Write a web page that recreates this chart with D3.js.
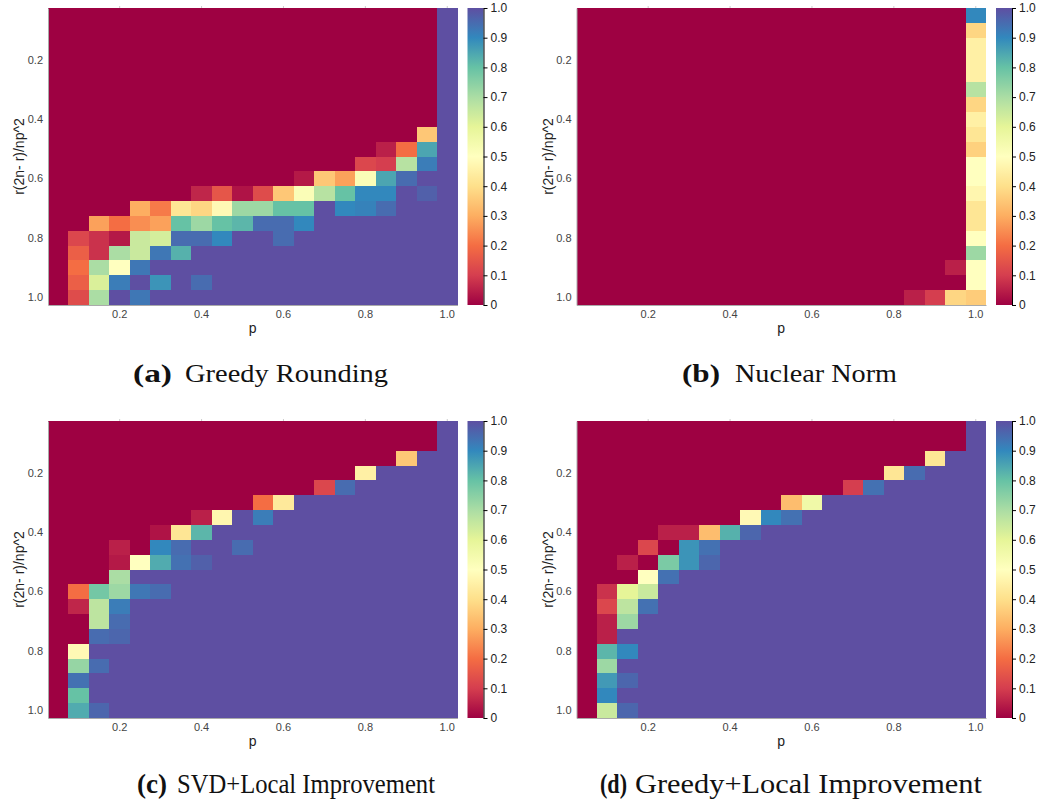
<!DOCTYPE html>
<html>
<head>
<meta charset="utf-8">
<title>Recovery heatmaps</title>
<style>
body {
    margin: 0;
    background: #fff;
}

svg text {
    font-family: "Liberation Sans", Arial, sans-serif;
}

.map-axis .tick text {
    fill: #444;
    font-size: 11px;
}

.map-axis .domain {
    stroke: #aaa;
}

.top-axis .domain {
    stroke: none;
}

.top-axis .tick line {
    stroke: #ccc;
}

.bar-axis .tick text {
    fill: #222;
    font-size: 12px;
}

.bar-axis .domain,
.bar-axis .tick line {
    stroke: #000;
}

.axis-label {
    fill: #222;
    font-size: 14px;
    text-anchor: middle;
}

.caption {
    font-family: "Liberation Serif", "Times New Roman", serif;
    fill: #111;
}
</style>
</head>
<body>

<svg id="chart" width="1037" height="803"></svg>

<script src="https://cdn.jsdelivr.net/npm/d3@7"></script>
<script>
const pValues = [0.05, 0.1, 0.15, 0.2, 0.25, 0.3, 0.35, 0.4, 0.45, 0.5, 0.55, 0.6, 0.65, 0.7, 0.75, 0.8, 0.85, 0.9, 0.95, 1.0];
const ratioValues = [0.05, 0.1, 0.15, 0.2, 0.25, 0.3, 0.35, 0.4, 0.45, 0.5, 0.55, 0.6, 0.65, 0.7, 0.75, 0.8, 0.85, 0.9, 0.95, 1.0];
const axisTicks = [0.2, 0.4, 0.6, 0.8, 1.0];
const colorTicks = [0, 0.1, 0.2, 0.3, 0.4, 0.5, 0.6, 0.7, 0.8, 0.9, 1.0];
const captionLetters = ['(a)', '(b)', '(c)', '(d)'];
const captionTitles = ['Greedy Rounding', 'Nuclear Norm', 'SVD+Local Improvement', 'Greedy+Local Improvement'];
const xLabel = 'p';
const yLabel = 'r(2n- r)/np^2';

// rows follow ratioValues (top to bottom), columns follow pValues
const greedyRounding = [
    [0,0,0,0,0,0,0,0,0,0,0,0,0,0,0,0,0,0,0,1],
    [0,0,0,0,0,0,0,0,0,0,0,0,0,0,0,0,0,0,0,1],
    [0,0,0,0,0,0,0,0,0,0,0,0,0,0,0,0,0,0,0,1],
    [0,0,0,0,0,0,0,0,0,0,0,0,0,0,0,0,0,0,0,1],
    [0,0,0,0,0,0,0,0,0,0,0,0,0,0,0,0,0,0,0,1],
    [0,0,0,0,0,0,0,0,0,0,0,0,0,0,0,0,0,0,0,1],
    [0,0,0,0,0,0,0,0,0,0,0,0,0,0,0,0,0,0,0,1],
    [0,0,0,0,0,0,0,0,0,0,0,0,0,0,0,0,0,0,0,1],
    [0,0,0,0,0,0,0,0,0,0,0,0,0,0,0,0,0,0,0.35,1],
    [0,0,0,0,0,0,0,0,0,0,0,0,0,0,0,0,0.05,0.2,0.85,1],
    [0,0,0,0,0,0,0,0,0,0,0,0,0,0,0,0.12,0.1,0.68,0.92,1],
    [0,0,0,0,0,0,0,0,0,0,0,0,0.04,0.35,0.28,0.52,0.85,0.95,1,1],
    [0,0,0,0,0,0,0,0.06,0.15,0.03,0.13,0.35,0.52,0.68,0.8,0.9,0.9,1,0.97,1],
    [0,0,0,0,0.3,0.22,0.42,0.38,0.48,0.72,0.72,0.8,0.8,1,0.9,0.91,0.95,1,1,1],
    [0,0,0.28,0.2,0.25,0.28,0.8,0.72,0.8,0.82,0.95,0.95,0.9,1,1,1,1,1,1,1],
    [0,0.12,0.08,0.04,0.65,0.63,0.95,0.95,0.9,1,1,0.95,1,1,1,1,1,1,1,1],
    [0,0.17,0.08,0.7,0.65,0.93,0.83,1,1,1,1,1,1,1,1,1,1,1,1,1],
    [0,0.2,0.7,0.5,0.93,1,1,1,1,1,1,1,1,1,1,1,1,1,1,1],
    [0,0.17,0.62,0.92,1,0.88,1,0.95,1,1,1,1,1,1,1,1,1,1,1,1],
    [0,0.13,0.7,1,0.93,1,1,1,1,1,1,1,1,1,1,1,1,1,1,1]
];

const nuclearNorm = [
    [0,0,0,0,0,0,0,0,0,0,0,0,0,0,0,0,0,0,0,0.9],
    [0,0,0,0,0,0,0,0,0,0,0,0,0,0,0,0,0,0,0,0.38],
    [0,0,0,0,0,0,0,0,0,0,0,0,0,0,0,0,0,0,0,0.45],
    [0,0,0,0,0,0,0,0,0,0,0,0,0,0,0,0,0,0,0,0.45],
    [0,0,0,0,0,0,0,0,0,0,0,0,0,0,0,0,0,0,0,0.45],
    [0,0,0,0,0,0,0,0,0,0,0,0,0,0,0,0,0,0,0,0.68],
    [0,0,0,0,0,0,0,0,0,0,0,0,0,0,0,0,0,0,0,0.38],
    [0,0,0,0,0,0,0,0,0,0,0,0,0,0,0,0,0,0,0,0.45],
    [0,0,0,0,0,0,0,0,0,0,0,0,0,0,0,0,0,0,0,0.42],
    [0,0,0,0,0,0,0,0,0,0,0,0,0,0,0,0,0,0,0,0.37],
    [0,0,0,0,0,0,0,0,0,0,0,0,0,0,0,0,0,0,0,0.5],
    [0,0,0,0,0,0,0,0,0,0,0,0,0,0,0,0,0,0,0,0.5],
    [0,0,0,0,0,0,0,0,0,0,0,0,0,0,0,0,0,0,0,0.47],
    [0,0,0,0,0,0,0,0,0,0,0,0,0,0,0,0,0,0,0,0.42],
    [0,0,0,0,0,0,0,0,0,0,0,0,0,0,0,0,0,0,0,0.42],
    [0,0,0,0,0,0,0,0,0,0,0,0,0,0,0,0,0,0,0,0.5],
    [0,0,0,0,0,0,0,0,0,0,0,0,0,0,0,0,0,0,0,0.72],
    [0,0,0,0,0,0,0,0,0,0,0,0,0,0,0,0,0,0,0.05,0.5],
    [0,0,0,0,0,0,0,0,0,0,0,0,0,0,0,0,0,0,0,0.5],
    [0,0,0,0,0,0,0,0,0,0,0,0,0,0,0,0,0.05,0.1,0.38,0.36]
];

const svdLocal = [
    [0,0,0,0,0,0,0,0,0,0,0,0,0,0,0,0,0,0,0,1],
    [0,0,0,0,0,0,0,0,0,0,0,0,0,0,0,0,0,0,0,1],
    [0,0,0,0,0,0,0,0,0,0,0,0,0,0,0,0,0,0.35,1,1],
    [0,0,0,0,0,0,0,0,0,0,0,0,0,0,0,0.45,1,1,1,1],
    [0,0,0,0,0,0,0,0,0,0,0,0,0,0.12,0.95,1,1,1,1,1],
    [0,0,0,0,0,0,0,0,0,0,0.2,0.43,1,1,1,1,1,1,1,1],
    [0,0,0,0,0,0,0,0.05,0.47,1,0.92,1,1,1,1,1,1,1,1,1],
    [0,0,0,0,0,0.03,0.42,0.82,1,1,1,1,1,1,1,1,1,1,1,1],
    [0,0,0,0.05,0,0.9,0.95,1,1,0.95,1,1,1,1,1,1,1,1,1,1],
    [0,0,0,0.04,0.5,0.84,0.94,0.97,1,1,1,1,1,1,1,1,1,1,1,1],
    [0,0,0,0.7,1,1,1,1,1,1,1,1,1,1,1,1,1,1,1,1],
    [0,0.2,0.78,0.72,0.93,0.95,1,1,1,1,1,1,1,1,1,1,1,1,1,1],
    [0,0.06,0.67,0.92,1,1,1,1,1,1,1,1,1,1,1,1,1,1,1,1],
    [0,0,0.67,0.95,1,1,1,1,1,1,1,1,1,1,1,1,1,1,1,1],
    [0,0,0.95,0.96,1,1,1,1,1,1,1,1,1,1,1,1,1,1,1,1],
    [0,0.48,1,1,1,1,1,1,1,1,1,1,1,1,1,1,1,1,1,1],
    [0,0.73,0.95,1,1,1,1,1,1,1,1,1,1,1,1,1,1,1,1,1],
    [0,0.94,1,1,1,1,1,1,1,1,1,1,1,1,1,1,1,1,1,1],
    [0,0.8,1,1,1,1,1,1,1,1,1,1,1,1,1,1,1,1,1,1],
    [0,0.84,0.96,1,1,1,1,1,1,1,1,1,1,1,1,1,1,1,1,1]
];

const greedyLocal = [
    [0,0,0,0,0,0,0,0,0,0,0,0,0,0,0,0,0,0,0,1],
    [0,0,0,0,0,0,0,0,0,0,0,0,0,0,0,0,0,0,0,1],
    [0,0,0,0,0,0,0,0,0,0,0,0,0,0,0,0,0,0.42,1,1],
    [0,0,0,0,0,0,0,0,0,0,0,0,0,0,0,0.42,0.95,1,1,1],
    [0,0,0,0,0,0,0,0,0,0,0,0,0,0.1,0.94,1,1,1,1,1],
    [0,0,0,0,0,0,0,0,0,0,0.33,0.56,1,1,1,1,1,1,1,1],
    [0,0,0,0,0,0,0,0,0.48,0.9,0.94,1,1,1,1,1,1,1,1,1],
    [0,0,0,0,0.05,0.05,0.33,0.83,0.96,1,1,1,1,1,1,1,1,1,1,1],
    [0,0,0,0.12,0,0.88,0.94,1,1,1,1,1,1,1,1,1,1,1,1,1],
    [0,0,0.05,0,0.77,0.88,0.96,1,1,1,1,1,1,1,1,1,1,1,1,1],
    [0,0,0,0.5,0.94,1,1,1,1,1,1,1,1,1,1,1,1,1,1,1],
    [0,0.08,0.6,0.65,1,1,1,1,1,1,1,1,1,1,1,1,1,1,1,1],
    [0,0.12,0.67,0.94,1,1,1,1,1,1,1,1,1,1,1,1,1,1,1,1],
    [0,0.05,0.72,1,1,1,1,1,1,1,1,1,1,1,1,1,1,1,1,1],
    [0,0.05,1,1,1,1,1,1,1,1,1,1,1,1,1,1,1,1,1,1],
    [0,0.82,0.9,1,1,1,1,1,1,1,1,1,1,1,1,1,1,1,1,1],
    [0,0.72,1,1,1,1,1,1,1,1,1,1,1,1,1,1,1,1,1,1],
    [0,0.87,0.96,1,1,1,1,1,1,1,1,1,1,1,1,1,1,1,1,1],
    [0,0.9,1,1,1,1,1,1,1,1,1,1,1,1,1,1,1,1,1,1],
    [0,0.65,0.96,1,1,1,1,1,1,1,1,1,1,1,1,1,1,1,1,1]
];

const matrices = [greedyRounding, nuclearNorm, svdLocal, greedyLocal];

// where each panel sits on the page
const layout = [
    {left: 48,    top: 8,   capY: 381.5, capSize: 26, letterX: 133, letterW: 39, titleX: 185, titleW: 203},
    {left: 576.5, top: 8,   capY: 381.5, capSize: 26, letterX: 682, letterW: 38, titleX: 735, titleW: 162},
    {left: 48,    top: 421, capY: 793,   capSize: 28, letterX: 137, letterW: 30, titleX: 177, titleW: 258},
    {left: 576.5, top: 421, capY: 793,   capSize: 28, letterX: 600, letterW: 27, titleX: 635, titleW: 347}
];
const mapWidth = 409.5;
const mapHeight = 297;
const barGap = 10;
const barWidth = 16;

const color = d3.piecewise(d3.interpolateRgb, d3.schemeSpectral[11]);
const fmt = d3.format('.1f');

const svg = d3.select('#chart');

const gradient = svg.append('defs')
    .append('linearGradient')
        .attr('id', 'spectral')
        .attr('x1', 0).attr('y1', 1)
        .attr('x2', 0).attr('y2', 0);

gradient.selectAll('stop')
    .data(d3.range(0, 1.0001, 0.02))
    .join('stop')
        .attr('offset', d => d)
        .attr('stop-color', d => color(d));

const x = d3.scaleBand().domain(pValues).range([0, mapWidth]);
const y = d3.scaleBand().domain(ratioValues).range([0, mapHeight]);
const barScale = d3.scaleLinear().domain([0, 1]).range([mapHeight, 0]);

matrices.forEach((matrix, i) => {
    const pos = layout[i];
    const g = svg.append('g').attr('transform', `translate(${pos.left},${pos.top})`);

    const cells = [];
    matrix.forEach((row, r) => {
        row.forEach((value, c) => {
            cells.push({p: pValues[c], ratio: ratioValues[r], value});
        });
    });

    g.append('g')
        .selectAll('rect')
        .data(cells)
        .join('rect')
            .attr('x', d => x(d.p))
            .attr('y', d => y(d.ratio))
            .attr('width', x.bandwidth())
            .attr('height', y.bandwidth())
            .attr('fill', d => color(d.value))
            .attr('shape-rendering', 'crispEdges');

    g.append('g')
        .attr('class', 'map-axis')
        .attr('transform', `translate(0,${mapHeight})`)
        .call(d3.axisBottom(x).tickValues(axisTicks).tickFormat(fmt).tickSize(0).tickPadding(5));

    g.append('g')
        .attr('class', 'map-axis')
        .call(d3.axisLeft(y).tickValues(axisTicks).tickFormat(fmt).tickSize(0).tickPadding(5));

    g.append('g')
        .attr('class', 'map-axis top-axis')
        .call(d3.axisTop(x).tickValues(axisTicks).tickFormat('').tickSize(2));

    g.append('text')
        .attr('class', 'axis-label')
        .attr('x', mapWidth / 2)
        .attr('y', mapHeight + 28)
        .text(xLabel);

    g.append('text')
        .attr('class', 'axis-label')
        .attr('transform', `translate(-24,${mapHeight / 2}) rotate(-90)`)
        .text(yLabel);

    // colour bar
    const bar = g.append('g').attr('transform', `translate(${mapWidth + barGap},0)`);

    bar.append('rect')
        .attr('width', barWidth)
        .attr('height', mapHeight)
        .attr('fill', 'url(#spectral)');

    bar.append('g')
        .attr('class', 'bar-axis')
        .attr('transform', `translate(${barWidth},0)`)
        .call(d3.axisRight(barScale)
            .tickValues(colorTicks)
            .tickFormat(d => d === 0 ? '0' : fmt(d))
            .tickSize(4)
            .tickSizeOuter(0)
            .tickPadding(3));

    // caption under the panel
    svg.append('text')
        .attr('class', 'caption')
        .attr('x', pos.letterX)
        .attr('y', pos.capY)
        .attr('font-size', pos.capSize)
        .attr('font-weight', 'bold')
        .attr('textLength', pos.letterW)
        .attr('lengthAdjust', 'spacingAndGlyphs')
        .text(captionLetters[i]);

    svg.append('text')
        .attr('class', 'caption')
        .attr('x', pos.titleX)
        .attr('y', pos.capY)
        .attr('font-size', pos.capSize)
        .attr('textLength', pos.titleW)
        .attr('lengthAdjust', 'spacingAndGlyphs')
        .text(captionTitles[i]);
});
</script>
</body>
</html>
